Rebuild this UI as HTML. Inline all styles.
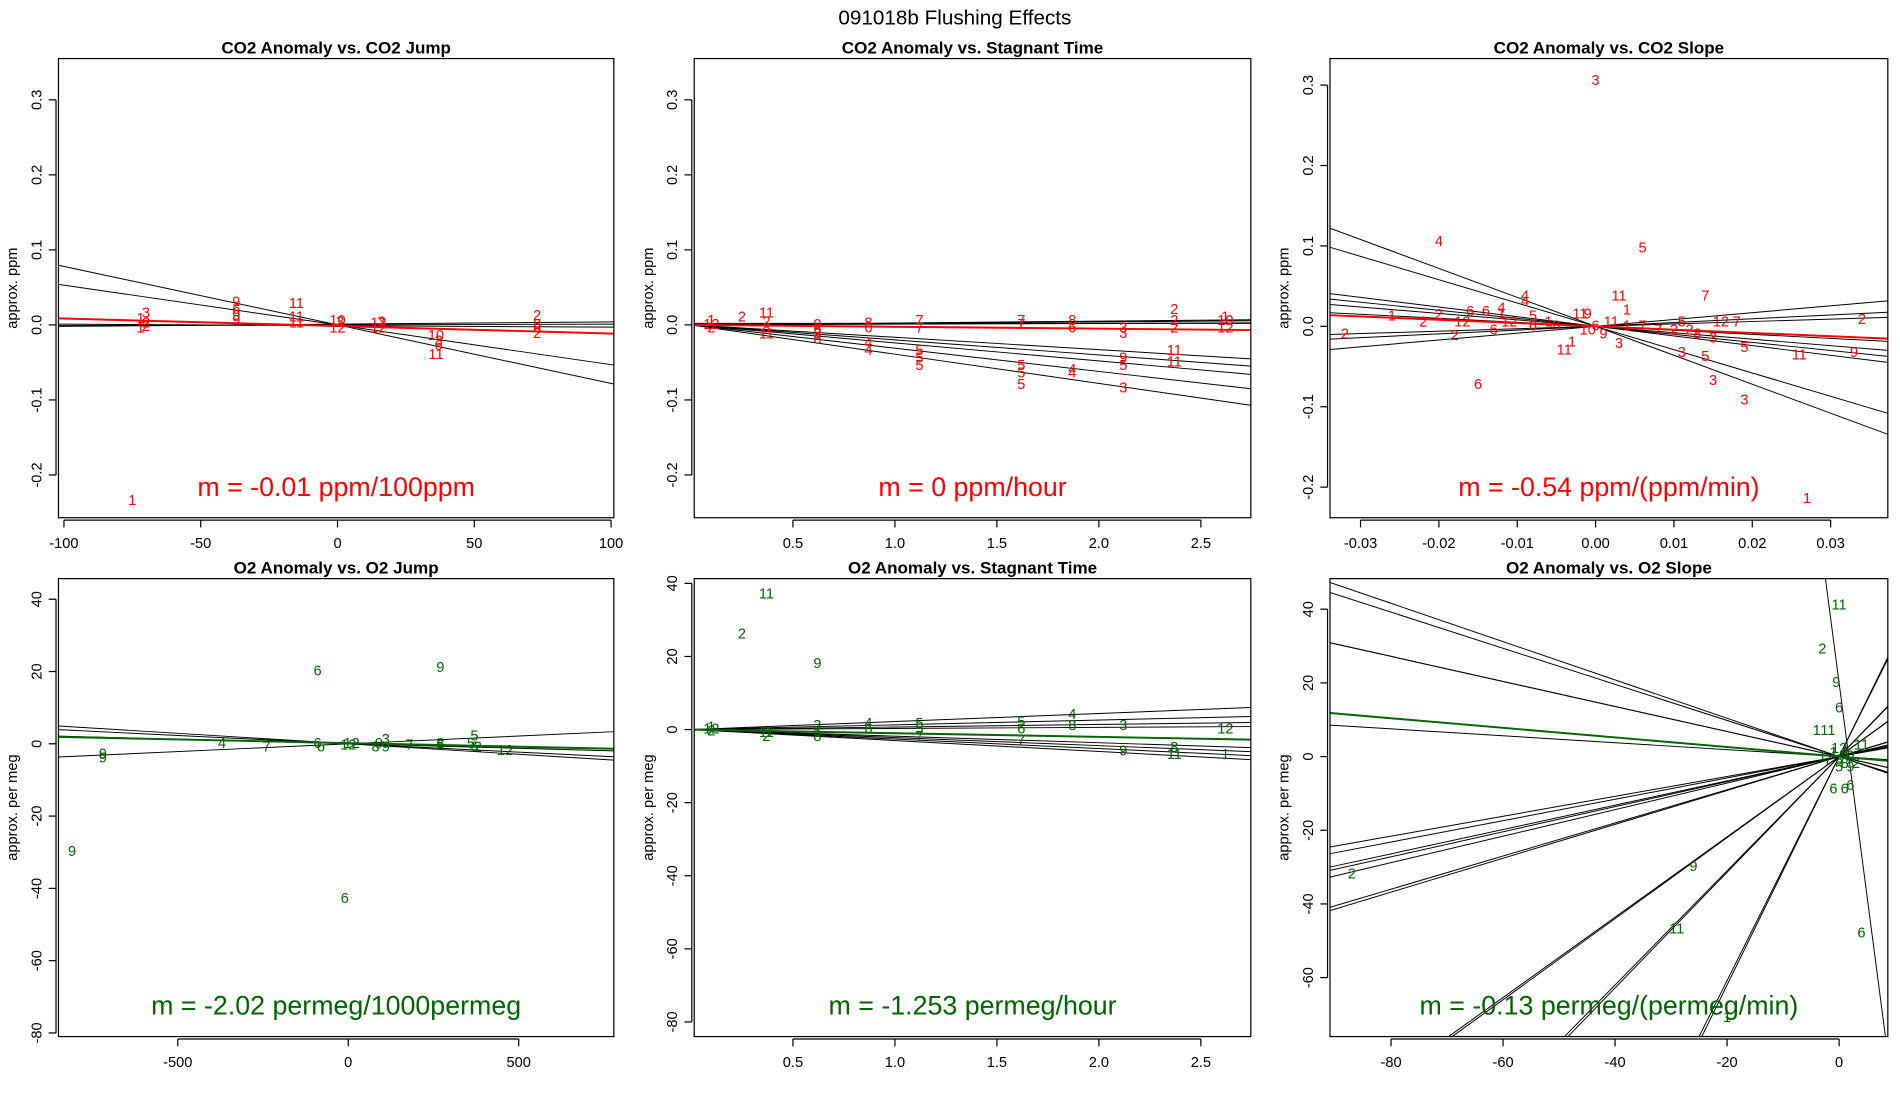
<!DOCTYPE html>
<html><head><meta charset="utf-8"><style>
html,body{margin:0;padding:0;background:#fff;width:1900px;height:1100px;overflow:hidden}
svg{display:block;font-family:"Liberation Sans",sans-serif;overflow:hidden}
</style></head><body>
<svg id="chart" width="1900" height="1100" viewBox="0 0 1560 903" xmlns="http://www.w3.org/2000/svg">
<rect x="0" y="0" width="1560" height="903" fill="#fff"/>
<text x="784" y="20" font-size="17" text-anchor="middle">091018b   Flushing Effects</text>
</svg>
<script>
// ---------- Panel 1: CO2 Anomaly vs CO2 Jump ----------
const p1Slopes=[-0.00078,-0.00053,0.00003,-0.00002,0.00001];
const p1Inter=[0,0,0.001,-0.001,0];
const p1FitSlope=-0.0001, p1FitInter=-0.0015;
const p1X=[-75,-72,-70,-70,-72,-70,-37,-37,-37,-37,-15,-15,-15,0,1,0,15,16,15,36,37,37,36,73,73,73,73];
const p1Y=[-0.235,0.008,0.015,-0.003,-0.005,0.002,0.03,0.02,0.012,0.005,0.028,0.01,0.002,0.005,0.003,-0.005,0.002,0.003,-0.005,-0.015,-0.022,-0.028,-0.04,0.012,0,-0.005,-0.012];
const p1L=["1","1","3","2","1","2","9","6","9","9","11","11","11","10","3","12","12","3","12","10","3","6","11","2","8","8","2"];
const p1XT=[-100,-50,0,50,100], p1XTL=["-100","-50","0","50","100"];
const p1YT=[0.3,0.2,0.1,0,-0.1,-0.2], p1YTL=["0.3","0.2","0.1","0.0","-0.1","-0.2"];
// ---------- Panel 2: CO2 Anomaly vs Stagnant Time ----------
const p2Slopes=[0.002,0.001,-0.0165,-0.02,-0.024,-0.031,-0.039,0,0.0025];
const p2Inter=[0,0,0,0,0,0,0,0.002,0];
const p2FitSlope=-0.0025, p2FitInter=0;
const p2X=[0.1,0.1,0.1,0.25,0.37,0.37,0.37,0.37,0.62,0.62,0.62,0.62,0.87,0.87,0.87,0.87,1.12,1.12,1.12,1.12,1.12,1.62,1.62,1.62,1.62,1.62,1.87,1.87,1.87,1.87,2.12,2.12,2.12,2.12,2.12,2.37,2.37,2.37,2.37,2.37,2.62,2.62,2.62];
const p2Y=[0.005,0,-0.005,0.01,0.015,0.003,-0.005,-0.013,0,-0.007,-0.013,-0.02,0.002,-0.005,-0.025,-0.035,0.005,-0.005,-0.035,-0.045,-0.055,0.005,0,-0.055,-0.065,-0.08,0.005,-0.005,-0.06,-0.065,-0.005,-0.012,-0.045,-0.055,-0.085,0.02,0.005,-0.005,-0.035,-0.05,0.01,0.005,-0.005];
const p2L=["1","12","2","2","11","2","8","11","9","6","3","6","8","6","4","4","7","7","5","5","5","7","7","5","5","5","8","6","4","4","3","3","9","5","3","2","2","2","11","11","1","10","12"];
const p2XT=[0.5,1,1.5,2,2.5], p2XTL=["0.5","1.0","1.5","2.0","2.5"];
const p2YT=p1YT, p2YTL=p1YTL;
// ---------- Panel 3: CO2 Anomaly vs CO2 Slope ----------
const p3Slopes=[-3.6,-2.9,-1.2,-1.0,-0.8,-0.5,0.85,0.47,0.3];
const p3Inter=[0,0,0,0,0,0,0,0,0];
const p3FitSlope=-0.41, p3FitInter=0;
const p3X=[0,-0.02,0.006,0.027,-0.015,0.014,0.003,-0.032,-0.026,-0.022,-0.02,-0.018,-0.017,-0.016,-0.014,-0.012,-0.009,-0.009,-0.008,-0.012,-0.011,-0.013,-0.008,-0.006,-0.005,-0.004,-0.003,-0.002,-0.001,0,0.001,0.002,0.003,0.004,0.006,0.008,0.01,0.011,0.012,0.013,0.016,0.018,0.015,0.011,0.014,0.019,0.015,0.019,0.026,0.033,0.034,0.004,-0.001];
const p3Y=[0.305,0.105,0.097,-0.215,-0.073,0.037,0.037,-0.01,0.012,0.005,0.014,-0.012,0.005,0.018,0.018,0.022,0.037,0.03,0.012,0.015,0.005,-0.005,0,0.005,0,-0.03,-0.02,0.015,0.015,0,-0.01,0.005,-0.022,0.02,0,-0.005,-0.005,0.005,-0.005,-0.01,0.005,0.005,-0.015,-0.033,-0.038,-0.027,-0.068,-0.092,-0.036,-0.033,0.008,0,-0.005];
const p3L=["3","4","5","1","6","7","11","2","1","2","2","2","12","6","6","4","4","4","5","1","12","6","6","1","8","11","1","11","9","6","9","11","3","1","7","7","2","5","2","8","12","7","3","3","5","5","3","3","11","9","2","1","10"];
const p3XT=[-0.03,-0.02,-0.01,0,0.01,0.02,0.03], p3XTL=["-0.03","-0.02","-0.01","0.00","0.01","0.02","0.03"];
const p3YT=[0.3,0.2,0.1,0,-0.1,-0.2], p3YTL=p1YTL;
// ---------- Panel 4: O2 Anomaly vs O2 Jump ----------
const p4Slopes=[-0.0058,-0.0046,0.0043,-0.0025];
const p4Inter=[0,0,0,0];
const p4FitSlope=-0.00202, p4FitInter=0.2;
const p4X=[-810,-720,-720,-370,-240,-90,-90,-80,-10,0,10,80,90,110,110,180,270,270,270,370,370,360,460,380];
const p4Y=[-30,-3,-4,0,-1,20,0,-1,-43,-0.5,0,-1,0,1,-1,-0.5,21,-0.5,0,2,-1,0,-2,-1];
const p4L=["9","9","9","4","7","6","6","6","6","12","12","8","9","3","9","7","9","6","8","5","6","5","12","2"];
const p4XT=[-500,0,500], p4XTL=["-500","0","500"];
const p4YT=[40,20,0,-20,-40,-60,-80], p4YTL=["40","20","0","-20","-40","-60","-80"];
// ---------- Panel 5: O2 Anomaly vs Stagnant Time ----------
const p5Slopes=[2.2,1.3,0.7,0.3,-1.8,-2.2,-2.6,-3.0];
const p5Inter=[0,0,0,0,0,0,0,0];
const p5FitSlope=-1.0, p5FitInter=0;
const p5X=[0.1,0.1,0.1,0.25,0.37,0.37,0.37,0.62,0.62,0.62,0.62,0.87,0.87,1.12,1.12,1.12,1.62,1.62,1.62,1.87,1.87,2.12,2.12,2.37,2.37,2.62,2.62];
const p5Y=[0.5,0,-0.5,26,37,-1,-2,18,1,-1,-2,1.5,0,1.5,0,-2,2,0,-3,4,1,1,-6,-5,-7,0,-7];
const p5L=["1","12","2","2","11","11","2","9","3","6","8","4","6","5","5","7","5","6","7","4","8","3","9","8","11","12","1"];
const p5XT=p2XT, p5XTL=p2XTL;
const p5YT=p4YT, p5YTL=p4YTL;
// ---------- Panel 6: O2 Anomaly vs O2 Slope ----------
const p6Slopes=[-0.49,-0.34,-0.094,0.27,0.33,0.36,0.45,1.09,1.57,3.04,-11.6,3.1,1.55,1.1,0.46,0.34,0.29,-0.34,-0.52];
const p6Inter=[0,0,0,0,0,0,0,0,0,0,20,0,0,0,0,0,0,0,0];
const p6FitSlope=-0.13, p6FitInter=0;
const p6X=[-87,-26,-29,-20,0,-3,-0.5,0,-4,-2,4,4,-1,1,2,0,2,3,-1,0,1,-2,0,1,-3,2];
const p6Y=[-32,-30,-47,-71,41,29,20,13,7,7,-48,3,-9,-9,-8,-3,-3,-2,1,2,1,-1,-1,-2,0,0];
const p6L=["2","9","11","1","11","2","9","6","1","11","6","11","6","6","6","5","9","2","1","12","4","7","3","8","1","0"];
const p6XT=[-80,-60,-40,-20,0], p6XTL=["-80","-60","-40","-20","0"];
const p6YT=[40,20,0,-20,-40,-60], p6YTL=["40","20","0","-20","-40","-60"];

const svg=document.getElementById('chart');
const NS='http://www.w3.org/2000/svg';
function mk(tag,attrs,parent,txt){const e=document.createElementNS(NS,tag);for(const k in attrs)e.setAttribute(k,attrs[k]);if(txt!==undefined)e.textContent=txt;(parent||svg).appendChild(e);return e;}

// clip line y=b+m*x to data box; returns [x1,y1,x2,y2] or null
function clipLine(m,b,xmin,xmax,ymin,ymax){
  let xa=xmin,xb=xmax;
  if(m!==0){
    let xl=(ymin-b)/m, xh=(ymax-b)/m;
    if(xl>xh){const t=xl;xl=xh;xh=t;}
    xa=Math.max(xa,xl); xb=Math.min(xb,xh);
  } else if(b<ymin||b>ymax) return null;
  if(xa>=xb) return null;
  return [xa,b+m*xa,xb,b+m*xb];
}

function panel(id,cfg){
  const {L,R,T,B,xmin,xmax,ymin,ymax}=cfg;
  const sx=v=>L+(v-xmin)/(xmax-xmin)*(R-L);
  const sy=v=>B-(v-ymin)/(ymax-ymin)*(B-T);
  const g=mk('g',{},svg);
  
  
  const cp=mk('clipPath',{id:'clip-'+id},g);
  mk('rect',{x:L,y:T,width:R-L,height:B-T},cp);
  const t=mk('text',{x:(L+R)/2,y:T-4,'font-size':14,'font-weight':'bold','text-anchor':'middle'},g,cfg.title);
  
  
  const yt=mk('text',{x:0,y:0,'font-size':12,'text-anchor':'middle',transform:`translate(${L-34},${(T+B)/2}) rotate(-90)`},g,cfg.ylab);
  
  
  const inner=mk('g',{'clip-path':`url(#clip-${id})`},g);
  cfg.slopes.forEach((m,i)=>{
    const c=clipLine(m,cfg.inter[i],xmin,xmax,ymin,ymax);
    if(!c) return;
    const ln=mk('line',{x1:sx(c[0]),y1:sy(c[1]),x2:sx(c[2]),y2:sy(c[3]),stroke:'#000','stroke-width':0.8},inner);
    
    
  });
  const fc=clipLine(cfg.fs,cfg.fi,xmin,xmax,ymin,ymax);
  if(fc){
    const fl=mk('line',{x1:sx(fc[0]),y1:sy(fc[1]),x2:sx(fc[2]),y2:sy(fc[3]),stroke:cfg.color,'stroke-width':1.6},inner);
    
    
  }
  cfg.px.forEach((x,i)=>{
    const p=mk('text',{x:sx(x),y:sy(cfg.py[i]),'font-size':12,fill:cfg.color,'text-anchor':'middle','dominant-baseline':'central'},inner,cfg.pl[i]);
    
    
  });
  const box=mk('rect',{x:L,y:T,width:R-L,height:B-T,fill:'none',stroke:'#000','stroke-width':1},g);
  
  
  const xa=mk('g',{},g);
  
  
  mk('line',{x1:sx(cfg.xt[0]),y1:B+2,x2:sx(cfg.xt[cfg.xt.length-1]),y2:B+2,stroke:'#000'},xa);
  cfg.xt.forEach((v,i)=>{
    mk('line',{x1:sx(v),y1:B+2,x2:sx(v),y2:B+8,stroke:'#000'},xa);
    mk('text',{x:sx(v),y:B+25,'font-size':12,'text-anchor':'middle'},xa,cfg.xtl[i]);
  });
  const ya=mk('g',{},g);
  
  
  mk('line',{x1:L-2,y1:sy(cfg.yt[0]),x2:L-2,y2:sy(cfg.yt[cfg.yt.length-1]),stroke:'#000'},ya);
  cfg.yt.forEach((v,i)=>{
    mk('line',{x1:L-2,y1:sy(v),x2:L-8,y2:sy(v),stroke:'#000'},ya);
    mk('text',{x:0,y:0,'font-size':12,'text-anchor':'middle',transform:`translate(${L-14},${sy(v)}) rotate(-90)`},ya,cfg.ytl[i]);
  });
  const mt=mk('text',{x:(L+R)/2,y:B-18,'font-size':22,fill:cfg.color,'text-anchor':'middle'},g,cfg.mtext);
  
  
}
const RED='#ff0000', GRN='#006400';
panel('co2-jump',{L:48,R:504,T:48,B:425,xmin:-102,xmax:101,ymin:-0.257,ymax:0.355,title:'CO2 Anomaly vs. CO2 Jump',ylab:'approx. ppm',color:RED,slopes:p1Slopes,inter:p1Inter,fs:p1FitSlope,fi:p1FitInter,px:p1X,py:p1Y,pl:p1L,xt:p1XT,xtl:p1XTL,yt:p1YT,ytl:p1YTL,mtext:'m = -0.01 ppm/100ppm'});
panel('co2-stagnant',{L:570,R:1027,T:48,B:425,xmin:0.016,xmax:2.745,ymin:-0.257,ymax:0.355,title:'CO2 Anomaly vs. Stagnant Time',ylab:'approx. ppm',color:RED,slopes:p2Slopes,inter:p2Inter,fs:p2FitSlope,fi:p2FitInter,px:p2X,py:p2Y,pl:p2L,xt:p2XT,xtl:p2XTL,yt:p2YT,ytl:p2YTL,mtext:'m = 0 ppm/hour'});
panel('co2-slope',{L:1092,R:1550,T:48,B:425,xmin:-0.0339,xmax:0.0373,ymin:-0.238,ymax:0.333,title:'CO2 Anomaly vs. CO2 Slope',ylab:'approx. ppm',color:RED,slopes:p3Slopes,inter:p3Inter,fs:p3FitSlope,fi:p3FitInter,px:p3X,py:p3Y,pl:p3L,xt:p3XT,xtl:p3XTL,yt:p3YT,ytl:p3YTL,mtext:'m = -0.54 ppm/(ppm/min)'});
panel('o2-jump',{L:48,R:504,T:475,B:851,xmin:-850,xmax:779,ymin:-81,ymax:45.7,title:'O2 Anomaly vs. O2 Jump',ylab:'approx. per meg',color:GRN,slopes:p4Slopes,inter:p4Inter,fs:p4FitSlope,fi:p4FitInter,px:p4X,py:p4Y,pl:p4L,xt:p4XT,xtl:p4XTL,yt:p4YT,ytl:p4YTL,mtext:'m = -2.02 permeg/1000permeg'});
panel('o2-stagnant',{L:570,R:1027,T:475,B:851,xmin:0.016,xmax:2.745,ymin:-84,ymax:41.3,title:'O2 Anomaly vs. Stagnant Time',ylab:'approx. per meg',color:GRN,slopes:p5Slopes,inter:p5Inter,fs:p5FitSlope,fi:p5FitInter,px:p5X,py:p5Y,pl:p5L,xt:p5XT,xtl:p5XTL,yt:p5YT,ytl:p5YTL,mtext:'m = -1.253 permeg/hour'});
panel('o2-slope',{L:1092,R:1550,T:475,B:851,xmin:-90.9,xmax:8.7,ymin:-76,ymax:48.3,title:'O2 Anomaly vs. O2 Slope',ylab:'approx. per meg',color:GRN,slopes:p6Slopes,inter:p6Inter,fs:p6FitSlope,fi:p6FitInter,px:p6X,py:p6Y,pl:p6L,xt:p6XT,xtl:p6XTL,yt:p6YT,ytl:p6YTL,mtext:'m = -0.13 permeg/(permeg/min)'});
</script>
</body></html>
